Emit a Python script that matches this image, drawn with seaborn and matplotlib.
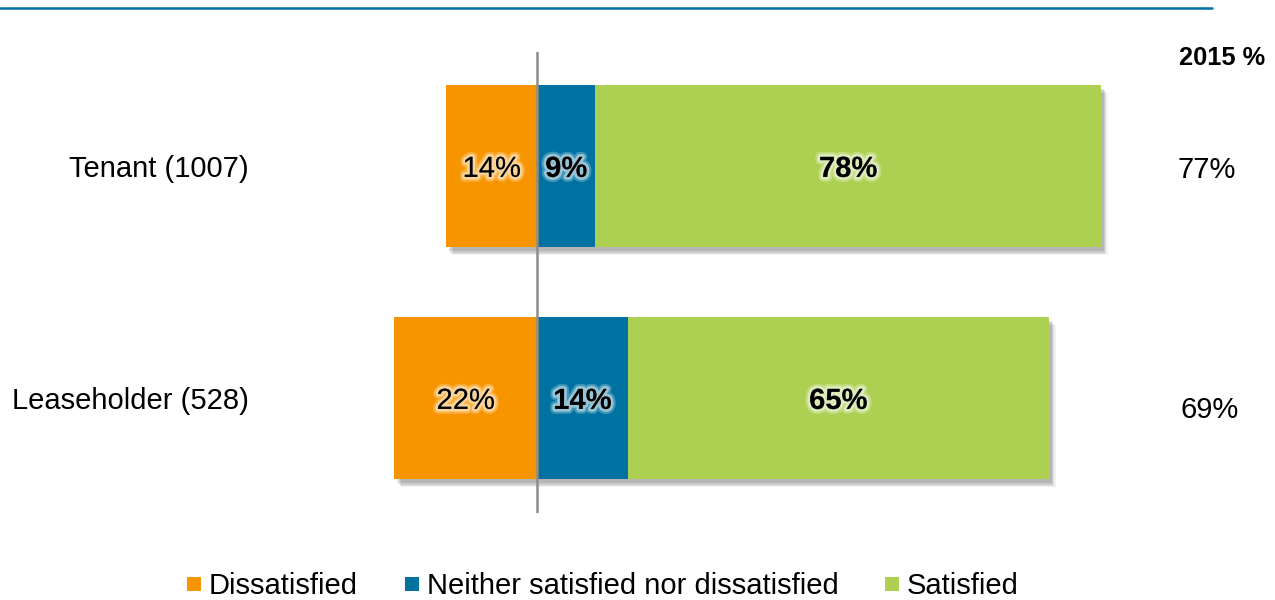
import matplotlib
matplotlib.use("Agg")
import matplotlib.pyplot as plt
import matplotlib.patheffects as pe
from matplotlib.lines import Line2D
import seaborn as sns
import pandas as pd

# Survey results by respondent group
groups = ["Tenant (1007)", "Leaseholder (528)"]
dissatisfied = [14, 22]
neither = [9, 14]
satisfied = [78, 65]
previous_2015 = ["77%", "69%"]
series_names = ["Dissatisfied", "Neither satisfied nor dissatisfied", "Satisfied"]

ORANGE = "#F79500"
BLUE = "#0072A2"
GREEN = "#ADD053"

sns.set_theme(style="white")
plt.rcParams["font.family"] = ["Liberation Sans", "DejaVu Sans"]
plt.rcParams["text.color"] = "black"
plt.rcParams["ytick.color"] = "black"
plt.rcParams["ytick.labelcolor"] = "black"

fig = plt.figure(figsize=(12.75, 6.0), dpi=100)
ax = fig.add_axes([260 / 1275, 87 / 600, 890 / 1275, 461 / 600])

df = pd.DataFrame({
    "group": groups,
    "dis": [-v for v in dissatisfied],
    "neither": neither,
    "pos_total": [n + s for n, s in zip(neither, satisfied)],
})

# soft drop shadow built from several faint offset copies
shadow = [pe.SimplePatchShadow(offset=(o, -o - 1), shadow_rgbFace="#000000", alpha=a)
          for o, a in ((5, 0.05), (4, 0.07), (3, 0.09), (2, 0.10))] + [pe.Normal()]

# Dissatisfied to the left of zero, then satisfied (stacked total) and neither on top
sns.barplot(data=df, x="dis", y="group", orient="h", color=ORANGE, saturation=1,
            width=0.70, ax=ax, linewidth=0)
n_before = len(ax.patches)
sns.barplot(data=df, x="pos_total", y="group", orient="h", color=GREEN, saturation=1,
            width=0.70, ax=ax, linewidth=0)
sns.barplot(data=df, x="neither", y="group", orient="h", color=BLUE, saturation=1,
            width=0.70, ax=ax, linewidth=0)
for p in ax.patches[:n_before + len(groups)]:
    p.set_path_effects(shadow)

ax.axvline(0, color="#8C8C8C", lw=1.8, zorder=5)

ax.set_xlim((260 - 537) / 6.48, (1150 - 537) / 6.48)
ax.set_ylim(1.496, -0.491)
ax.set_xlabel("")
ax.set_ylabel("")
ax.set_xticks([])
ax.tick_params(axis="y", length=0, pad=8, labelsize=21, labelcolor="black")
for s in ax.spines.values():
    s.set_visible(False)

glow = [pe.Stroke(linewidth=7, foreground=(1, 1, 1, 0.25)),
        pe.Stroke(linewidth=4, foreground=(1, 1, 1, 0.45)), pe.Normal()]
for i in range(len(groups)):
    d, n, s = dissatisfied[i], neither[i], satisfied[i]
    ax.text(-d / 2, i, f"{d}%", ha="center", va="center_baseline", fontsize=21,
            color="black", path_effects=glow, zorder=6)
    ax.text(n / 2, i, f"{n}%", ha="center", va="center_baseline", fontsize=21,
            fontweight="bold", color="black", path_effects=glow, zorder=6)
    ax.text(n + s / 2, i, f"{s}%", ha="center", va="center_baseline", fontsize=21,
            fontweight="bold", color="black", path_effects=glow, zorder=6)

# 2015 comparison column
fig.text(1222 / 1275, 1 - 58 / 600, "2015 %", ha="center", va="center",
         fontsize=18.3, fontweight="bold")
fig.text(1207 / 1275, 1 - 170 / 600, previous_2015[0], ha="center", va="center", fontsize=21)
fig.text(1210 / 1275, 1 - 410 / 600, previous_2015[1], ha="center", va="center", fontsize=21)

# Header rule
fig.add_artist(Line2D([0, 1212 / 1275], [1 - 8 / 600, 1 - 8 / 600],
                      transform=fig.transFigure, color=BLUE, lw=1.8))

handles = [Line2D([], [], marker="s", linestyle="none", markersize=10.5,
                  markerfacecolor=c, markeredgewidth=0) for c in (ORANGE, BLUE, GREEN)]
fig.legend(handles, series_names, loc="center", bbox_to_anchor=(603 / 1275, 14 / 600),
           ncol=3, frameon=False, fontsize=21, handlelength=0.5, handletextpad=0.25,
           columnspacing=1.6, borderpad=0, borderaxespad=0)

fig.savefig("out.png", dpi=100)
